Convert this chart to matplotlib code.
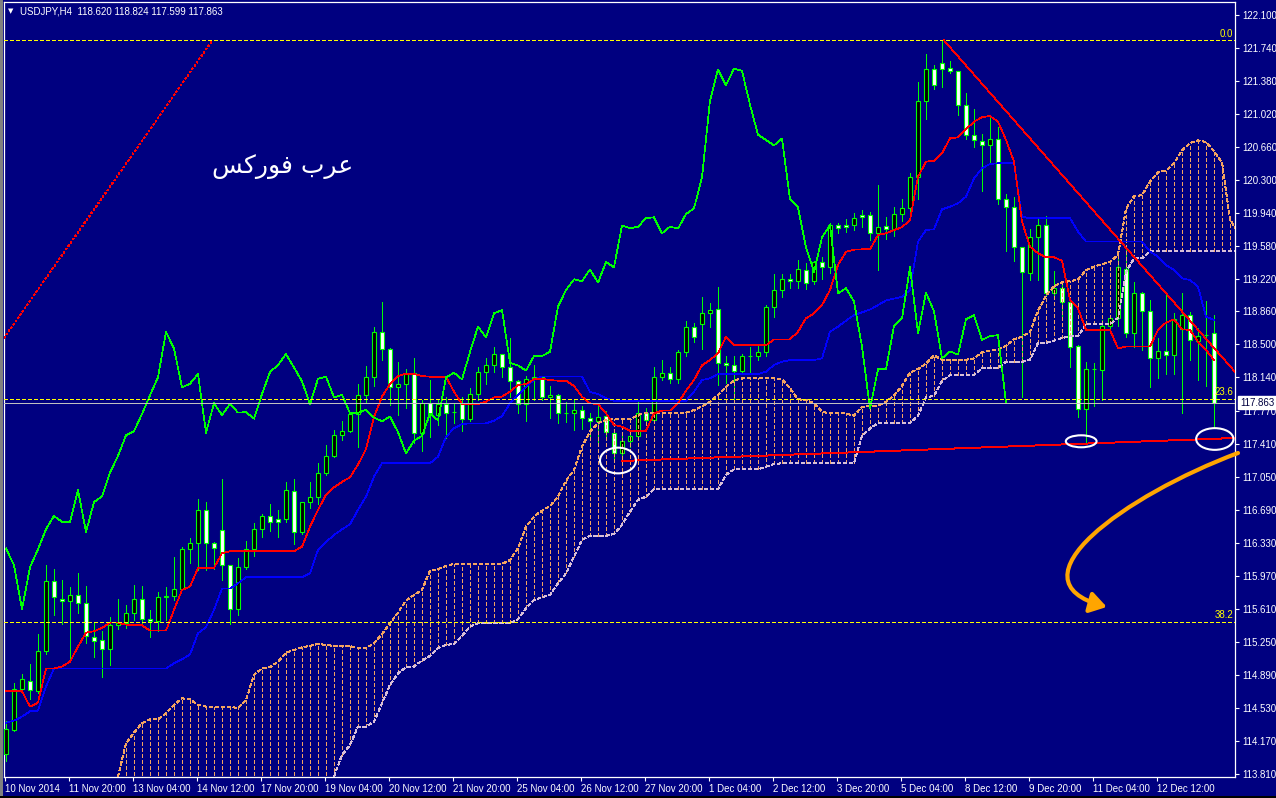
import numpy as np
import matplotlib
matplotlib.use("Agg")
import matplotlib.pyplot as plt
from matplotlib.patches import Ellipse, FancyArrowPatch, Rectangle
from matplotlib.path import Path

plt.rcParams['font.family'] = ['Liberation Sans', 'DejaVu Sans']
plt.rcParams['lines.scale_dashes'] = False

# ---- candles USDJPY H4 (bar 0 .. 151) ----
opens = [114.024, 114.286, 114.731, 114.825, 114.716, 115.146, 115.911, 115.722, 115.692, 115.765,
         115.671, 115.299, 115.27, 115.168, 115.43, 115.46, 115.561, 115.722, 115.503, 115.48,
         115.736, 115.745, 115.824, 116.261, 116.326, 116.691, 116.326, 116.472, 116.086, 115.605,
         116.064, 116.261, 116.479, 116.625, 116.59, 116.59, 116.895, 116.45, 116.778, 116.837,
         117.099, 117.281, 117.51, 117.55, 117.74, 117.944, 118.141, 118.636, 118.454, 118.031,
         118.07, 118.184, 117.535, 117.856, 117.728, 117.85, 117.76, 117.85, 117.688, 117.958,
         118.198, 118.275, 118.395, 118.249, 118.096, 117.848, 118.125, 118.14, 117.921, 117.95,
         117.75, 117.75, 117.787, 117.70, 117.66, 117.717, 117.535, 117.309, 117.448, 117.50,
         117.746, 117.674, 118.14, 118.19, 118.118, 118.417, 118.694, 118.723, 118.839, 118.883,
         118.30, 118.27, 118.213, 118.373, 118.373, 118.42, 118.912, 119.094, 119.211, 119.19,
         119.313, 119.19, 119.40, 119.342, 119.80, 119.80, 119.80, 119.911, 119.911, 119.714,
         119.79, 119.765, 119.925, 119.987, 120.326, 121.164, 121.506, 121.58, 121.521, 121.49,
         121.12, 120.792, 120.727, 120.676, 120.749, 120.086, 119.998, 119.561, 119.284, 119.67,
         119.802, 119.058, 119.113, 118.967, 118.483, 117.798, 118.228, 118.221, 118.70, 118.785,
         119.328, 118.621, 119.066, 118.862, 118.348, 118.424, 118.381, 118.672, 118.818, 118.541,
         118.60, 118.620]
highs = [114.388, 114.804, 114.90, 115.008, 115.335, 116.086, 116.042, 115.926, 115.85, 115.998,
         115.86, 115.45, 115.37, 115.525, 115.722, 115.65, 115.875, 115.86, 115.60, 115.79,
         115.85, 116.181, 116.29, 116.385, 116.807, 116.78, 116.34, 117.033, 116.09, 116.165,
         116.355, 116.545, 116.65, 116.76, 116.69, 116.997, 117.033, 116.78, 116.997, 117.20,
         117.405, 117.565, 117.66, 117.76, 118.068, 118.265, 118.694, 118.964, 118.46, 118.31,
         118.23, 118.347, 117.89, 118.111, 117.907, 117.93, 117.855, 117.93, 118.023, 118.256,
         118.347, 118.475, 118.40, 118.566, 118.11, 118.15, 118.275, 118.14, 118.04, 117.96,
         117.87, 117.89, 117.83, 117.75, 117.83, 117.775, 117.54, 117.528, 117.565, 117.874,
         117.81, 118.249, 118.33, 118.256, 118.44, 118.76, 118.73, 119.014, 118.956, 119.123,
         118.37, 118.37, 118.395, 118.475, 118.49, 118.93, 119.269, 119.27, 119.27, 119.422,
         119.386, 119.407, 119.46, 119.823, 119.823, 119.867, 119.932, 119.97, 119.947, 120.239,
         119.889, 120.005, 120.093, 120.37, 121.368, 121.674, 121.55, 121.827, 121.594, 121.49,
         121.244, 121.069, 120.80, 120.982, 120.88, 120.144, 120.107, 119.561, 119.765, 119.896,
         119.903, 119.30, 119.18, 119.0, 118.49, 118.312, 118.30, 118.767, 118.82, 119.496,
         119.532, 119.186, 119.07, 118.985, 118.567, 119.06, 118.84, 119.06, 118.858, 118.676,
         118.97, 118.824]
lows = [113.95, 114.27, 114.70, 114.621, 114.69, 115.12, 115.543, 115.441, 115.035, 115.561,
        115.233, 115.08, 114.862, 115.0, 115.39, 115.40, 115.49, 115.42, 115.299, 115.37,
        115.49, 115.71, 115.82, 116.108, 116.035, 116.035, 116.05, 115.926, 115.445, 115.54,
        116.04, 116.19, 116.39, 116.465, 116.40, 116.56, 116.32, 116.43, 116.712, 116.76,
        117.07, 117.27, 117.455, 117.54, 117.376, 117.87, 118.04, 118.33, 117.835, 117.725,
        117.80, 117.419, 117.338, 117.491, 117.619, 117.473, 117.637, 117.557, 117.667, 117.89,
        118.07, 118.2, 118.147, 117.929, 117.746, 117.666, 117.89, 117.89, 117.70, 117.645,
        117.65, 117.565, 117.57, 117.49, 117.42, 117.455, 117.25, 117.207, 117.38, 117.49,
        117.64, 117.66, 118.11, 118.075, 118.075, 118.37, 118.53, 118.446, 118.694, 118.056,
        118.075, 117.86, 118.19, 118.2, 118.33, 118.37, 118.80, 119.02, 119.116, 119.116,
        119.102, 119.16, 119.22, 119.277, 119.714, 119.728, 119.75, 119.787, 119.641, 119.313,
        119.656, 119.685, 119.852, 119.932, 120.086, 120.967, 121.295, 121.317, 121.463, 121.011,
        120.741, 120.654, 120.18, 120.472, 120.035, 119.517, 119.415, 117.92, 119.204, 119.204,
        119.03, 119.0, 118.80, 118.257, 117.71, 117.41, 117.827, 117.893, 118.66, 118.70,
        118.585, 118.476, 118.44, 118.038, 118.13, 118.18, 118.18, 117.754, 118.33, 118.111,
        118.05, 117.599]
closes = [114.294, 114.731, 114.84, 114.723, 115.146, 115.911, 115.736, 115.692, 115.758, 115.671,
          115.314, 115.255, 115.168, 115.43, 115.46, 115.561, 115.722, 115.503, 115.48, 115.736,
          115.745, 115.824, 116.261, 116.326, 116.691, 116.326, 116.27, 116.086, 115.605, 116.064,
          116.261, 116.479, 116.625, 116.56, 116.56, 116.909, 116.45, 116.778, 116.837, 117.099,
          117.281, 117.507, 117.55, 117.74, 117.944, 118.141, 118.636, 118.454, 118.031, 118.07,
          118.177, 117.535, 117.856, 117.728, 117.85, 117.754, 117.76, 117.688, 117.958, 118.198,
          118.275, 118.395, 118.249, 118.096, 117.848, 118.125, 118.147, 117.921, 117.95, 117.746,
          117.75, 117.787, 117.70, 117.66, 117.71, 117.542, 117.309, 117.448, 117.50, 117.746,
          117.67, 118.14, 118.19, 118.118, 118.417, 118.694, 118.577, 118.839, 118.876, 118.30,
          118.27, 118.213, 118.373, 118.373, 118.42, 118.912, 119.094, 119.211, 119.19, 119.32,
          119.175, 119.40, 119.342, 119.801, 119.77, 119.785, 119.881, 119.889, 119.714, 119.787,
          119.765, 119.925, 119.987, 120.326, 121.164, 121.506, 121.332, 121.514, 121.49, 121.12,
          120.792, 120.734, 120.676, 120.749, 120.086, 119.998, 119.561, 119.291, 119.67, 119.802,
          119.058, 119.113, 118.967, 118.476, 117.798, 118.228, 118.228, 118.701, 118.785, 119.343,
          118.621, 119.066, 118.862, 118.348, 118.424, 118.388, 118.774, 118.818, 118.548, 118.592,
          118.60, 117.863]

# Ichimoku lines (bar 0 .. 151)
tenkan = [114.709, 114.709, 114.709, 114.541, 114.585, 114.957, 114.957, 114.98, 115.033, 115.197,
          115.35, 115.365, 115.401, 115.459, 115.459, 115.437, 115.43, 115.43, 115.372, 115.372,
          115.372, 115.598, 115.816, 115.853, 116.057, 116.057, 116.057, 116.217, 116.239, 116.239,
          116.239, 116.239, 116.239, 116.239, 116.239, 116.239, 116.239, 116.29, 116.508, 116.691,
          116.858, 116.938, 116.997, 117.048, 117.186, 117.354, 117.71, 117.929, 118.068, 118.155,
          118.18, 118.176, 118.154, 118.147, 118.147, 118.147, 117.983, 117.848, 117.848, 117.848,
          117.874, 117.921, 117.929, 117.983, 118.056, 118.067, 118.118, 118.125, 118.11, 118.103,
          118.103, 118.045, 117.929, 117.856, 117.848, 117.746, 117.619, 117.601, 117.557, 117.557,
          117.557, 117.746, 117.776, 117.776, 117.856, 117.994, 118.111, 118.271, 118.33, 118.402,
          118.584, 118.49, 118.49, 118.49, 118.49, 118.49, 118.555, 118.555, 118.555, 118.639,
          118.785, 118.839, 118.93, 119.094, 119.368, 119.513, 119.535, 119.539, 119.539, 119.696,
          119.714, 119.75, 119.78, 119.86, 120.333, 120.497, 120.508, 120.588, 120.752, 120.763,
          120.851, 120.934, 120.982, 120.996, 120.934, 120.734, 120.497, 119.842, 119.568, 119.496,
          119.452, 119.452, 119.415, 118.986, 118.894, 118.658, 118.658, 118.658, 118.658, 118.457,
          118.476, 118.476, 118.476, 118.476, 118.658, 118.738, 118.774, 118.665, 118.658, 118.53,
          118.439, 118.33]
kijun = [114.366, 114.388, 114.432, 114.49, 114.498, 114.76, 114.957, 114.957, 114.957, 114.957,
         114.957, 114.957, 114.957, 114.957, 114.957, 114.957, 114.957, 114.957, 114.957, 114.957,
         114.957, 115.015, 115.059, 115.11, 115.343, 115.408, 115.598, 115.831, 115.831, 115.889,
         115.955, 115.955, 115.955, 115.955, 115.955, 115.955, 115.955, 115.955, 115.999, 116.253,
         116.341, 116.417, 116.479, 116.534, 116.691, 116.836, 117.055, 117.201, 117.201, 117.201,
         117.201, 117.201, 117.201, 117.201, 117.273, 117.492, 117.582, 117.63, 117.637, 117.637,
         117.637, 117.666, 117.717, 117.856, 117.947, 118.038, 118.11, 118.15, 118.15, 118.15,
         118.15, 118.15, 118.15, 117.98, 117.958, 117.91, 117.885, 117.885, 117.885, 117.885,
         117.885, 117.885, 117.885, 117.885, 117.885, 117.885, 117.983, 118.111, 118.129, 118.176,
         118.176, 118.176, 118.176, 118.176, 118.176, 118.202, 118.275, 118.311, 118.329, 118.329,
         118.329, 118.329, 118.348, 118.639, 118.694, 118.759, 118.821, 118.85, 118.88, 118.93,
         118.98, 119.0, 119.02, 119.095, 119.623, 119.75, 119.758, 119.976, 120.005, 120.042,
         120.115, 120.315, 120.424, 120.472, 120.479, 120.479, 120.479, 119.896, 119.878, 119.878,
         119.878, 119.878, 119.878, 119.878, 119.732, 119.623, 119.623, 119.623, 119.623, 119.623,
         119.623, 119.623, 119.623, 119.514, 119.459, 119.368, 119.313, 119.222, 119.204, 119.131,
         118.803, 118.767]

# Kumo spans, bar 14 .. 154
span_start = 14
span_a = [113.776, 114.14, 114.257, 114.36, 114.403, 114.403, 114.468, 114.56, 114.632, 114.621,
          114.56, 114.541, 114.541, 114.541, 114.541, 114.523, 114.614, 114.887, 114.96, 114.971,
          115.033, 115.131, 115.161, 115.19, 115.204, 115.226, 115.215, 115.204, 115.204, 115.204,
          115.179, 115.179, 115.233, 115.335, 115.452, 115.569, 115.70, 115.762, 115.816, 116.028,
          116.042, 116.079, 116.10, 116.10, 116.10, 116.10, 116.10, 116.10, 116.10, 116.144,
          116.272, 116.509, 116.618, 116.683, 116.734, 116.836, 117.011, 117.128, 117.383, 117.547,
          117.638, 117.674, 117.682, 117.682, 117.682, 117.728, 117.754, 117.754, 117.754, 117.754,
          117.754, 117.754, 117.783, 117.82, 117.874, 117.947, 118.038, 118.104, 118.129, 118.129,
          118.129, 118.129, 118.129, 118.118, 118.02, 117.90, 117.892, 117.856, 117.765, 117.746,
          117.746, 117.746, 117.721, 117.816, 117.83, 117.83, 117.87, 117.94, 118.047, 118.191,
          118.23, 118.289, 118.38, 118.333, 118.333, 118.333, 118.333, 118.346, 118.415, 118.433,
          118.442, 118.484, 118.557, 118.584, 118.639, 118.867, 119.031, 119.136, 119.18, 119.19,
          119.21, 119.31, 119.35, 119.375, 119.40, 119.48, 119.978, 120.12, 120.13, 120.28,
          120.38, 120.40, 120.48, 120.62, 120.70, 120.73, 120.71, 120.61, 120.49, 119.87,
          119.72]
span_b = [113.50, 113.50, 113.50, 113.50, 113.50, 113.50, 113.50, 113.50, 113.50, 113.50,
          113.50, 113.50, 113.50, 113.50, 113.50, 113.50, 113.50, 113.50, 113.50, 113.50,
          113.50, 113.50, 113.50, 113.50, 113.50, 113.50, 113.50, 113.776, 114.013, 114.122,
          114.323, 114.323, 114.377, 114.578, 114.778, 114.906, 114.971, 114.979, 115.044, 115.095,
          115.179, 115.215, 115.226, 115.314, 115.416, 115.452, 115.452, 115.452, 115.452, 115.452,
          115.496, 115.616, 115.707, 115.736, 115.762, 115.889, 115.998, 116.181, 116.363, 116.407,
          116.407, 116.407, 116.428, 116.527, 116.672, 116.80, 116.836, 116.917, 116.917, 116.917,
          116.917, 116.917, 116.917, 116.917, 116.917, 116.917, 117.073, 117.135, 117.135, 117.135,
          117.135, 117.164, 117.193, 117.20, 117.20, 117.20, 117.20, 117.20, 117.20, 117.20,
          117.20, 117.20, 117.20, 117.50, 117.58, 117.64, 117.64, 117.64, 117.64, 117.64,
          117.72, 117.92, 117.94, 118.10, 118.165, 118.165, 118.165, 118.165, 118.24, 118.24,
          118.24, 118.31, 118.31, 118.31, 118.33, 118.515, 118.515, 118.54, 118.57, 118.59,
          118.59, 118.72, 118.72, 118.72, 118.72, 118.79, 119.29, 119.44, 119.44, 119.517,
          119.517, 119.517, 119.517, 119.517, 119.517, 119.517, 119.517, 119.517, 119.517, 119.517,
          119.517]
chikou_shift = 26

# fibo levels and drawn objects
fib_levels = [121.823, 117.900, 115.466]
fib_names = ["0.0", "23.6", "38.2"]
last_price = 117.863
fib_diag = ([-0.25, 25.8], [118.57, 121.823])
down_trend = ([117.2, 153.625], [121.827, 118.20])
support = ([77.0, 153.625], [117.226, 117.477])
circles = [(76.5, 117.231, 4.5, 0.281), (134.4, 117.441, 3.84, 0.131), (151.1, 117.466, 4.66, 0.237)]

y_ticks = [122.100, 121.740, 121.380, 121.020, 120.660, 120.300, 119.940, 119.580, 119.220, 118.860,
           118.500, 118.140, 117.770, 117.410, 117.050, 116.690, 116.330, 115.970, 115.610, 115.250,
           114.890, 114.530, 114.170, 113.810]
x_labels = ["10 Nov 2014", "11 Nov 20:00", "13 Nov 04:00", "14 Nov 12:00", "17 Nov 20:00",
            "19 Nov 04:00", "20 Nov 12:00", "21 Nov 20:00", "25 Nov 04:00", "26 Nov 12:00",
            "27 Nov 20:00", "1 Dec 04:00", "2 Dec 12:00", "3 Dec 20:00", "5 Dec 04:00",
            "8 Dec 12:00", "9 Dec 20:00", "11 Dec 04:00", "12 Dec 12:00"]
label_step = 8

BG = '#000080'
LIME = '#00FF00'
SANDY = '#F4A460'
THISTLE = '#D8BFD8'
W, H = 1276, 798
LW = 0.5   # thin 1 px indicator lines (aliased)

fig = plt.figure(figsize=(W / 100, H / 100), dpi=100, facecolor=BG)
ax = fig.add_axes([4 / W, 1 - 777 / H, 1231 / W, 775 / H], facecolor=BG)
ax.set_xlim(-0.25, 153.625)
ax.set_ylim(113.772, 122.242)

o = np.array(opens); h = np.array(highs); l = np.array(lows); c = np.array(closes)
idx = np.arange(len(c))

# candles
ax.vlines(idx, l, h, colors=LIME, lw=0.7, zorder=2, antialiased=False)
body_col = np.where(c > o, 'black', 'white')
ax.bar(idx, np.abs(c - o), 0.55, bottom=np.minimum(o, c), color=body_col,
       edgecolor=LIME, linewidth=0.8, zorder=3)

# kumo
a = np.array(span_a); b = np.array(span_b)
sx = np.arange(span_start, span_start + len(a))
hatch_col = np.where(a >= b, SANDY, THISTLE)
dash = (0, (2.2, 1.5))
ax.vlines(sx, np.minimum(a, b), np.maximum(a, b), colors=hatch_col, lw=0.7,
          linestyles=[dash], zorder=4, antialiased=False)
ax.plot(sx, a, color=SANDY, lw=LW, ls=dash, zorder=4, antialiased=False)
ax.plot(sx, b, color=THISTLE, lw=LW, ls=dash, zorder=4, antialiased=False)

# lines
ax.plot(idx, kijun, color='#0000FF', lw=LW, zorder=5, antialiased=False)
ax.plot(idx, tenkan, color='#FF0000', lw=LW, zorder=5, antialiased=False)
ax.plot(idx[:-chikou_shift], c[chikou_shift:], color=LIME, lw=LW, zorder=5, antialiased=False)

# fibo + price line
for lvl, name in zip(fib_levels, fib_names):
    ax.axhline(lvl, color='#FFFF00', lw=0.7, ls=(0, (2.2, 1.5)), zorder=6, antialiased=False)
    ax.text(153.4, lvl + 0.02, name, color='#FFFF00', fontsize=7, ha='right', va='bottom', zorder=7)
ax.axhline(last_price, color='#C0C0C0', lw=0.7, zorder=6, antialiased=False)
ax.plot(*fib_diag, color='#FF0000', lw=LW, ls=(0, (1.2, 2.0)), zorder=6, antialiased=False)
ax.plot(*down_trend, color='#FF0000', lw=LW, zorder=6, antialiased=False)
ax.plot(*support, color='#FF0000', lw=0.7, zorder=6, antialiased=False)

for cx_, cy_, w_, h_ in circles:
    ax.add_patch(Ellipse((cx_, cy_), w_, h_, fill=False, ec='white', lw=1.5, zorder=8))

# orange curved arrow
arrow_path = Path([(154.0, 117.313), (140.0, 116.854), (125.0, 115.925), (137.6, 115.63)],
                  [Path.MOVETO, Path.CURVE4, Path.CURVE4, Path.CURVE4])
arr = FancyArrowPatch(path=arrow_path, arrowstyle='-|>,head_length=0.55,head_width=0.35',
                      mutation_scale=18, color='#FFA500', lw=3, zorder=9, clip_on=False)
ax.add_patch(arr)

# arabic label (pre-shaped, visual order)
ax.text(34.6, 120.44, "\uFEB2\uFEDB\uFEAD\uFEEE\uFED3 \uFE8F\uFEAE\uFECB", color='white',
        fontsize=18, ha='center', va='center', family=['DejaVu Sans'], zorder=9)

# axes styling
for side in ['left', 'top', 'right', 'bottom']:
    ax.spines[side].set_color('white')
    ax.spines[side].set_linewidth(0.9)
ax.yaxis.tick_right()
ax.set_yticks(y_ticks)
ax.set_yticklabels([f"{v:.3f}" for v in y_ticks])
ax.tick_params(axis='y', colors='white', labelcolor='white', length=3, width=0.8,
               labelsize=7, pad=2)
xt = np.arange(len(x_labels)) * label_step - 0.1
ax.set_xticks(xt)
ax.set_xticklabels(x_labels, ha='left')
ax.tick_params(axis='x', colors='white', labelcolor='white', length=3, width=0.8,
               labelsize=7, pad=2)

# current price tag
ax.text(1.004, last_price, f"{last_price:.3f}", transform=ax.get_yaxis_transform(),
        color='#000040', fontsize=7, ha='left', va='center', zorder=10, clip_on=False,
        bbox=dict(boxstyle='square,pad=0.15', fc='white', ec='white'))

# header
fig.text(8 / W, 1 - 11 / H, "\u25BC", color='white', fontsize=5, va='center', ha='left',
         family=['DejaVu Sans'])
fig.text(20 / W, 1 - 11 / H, "USDJPY,H4  118.620 118.824 117.599 117.863", color='white',
         fontsize=7, va='center', ha='left')

# window frame bits
fig.add_artist(Rectangle((0, 0), 3 / W, 1, transform=fig.transFigure, color='#808080', lw=0))
fig.add_artist(Rectangle((0, 0), 1, 2 / H, transform=fig.transFigure, color='black', lw=0))

fig.savefig("out.png", dpi=100, facecolor=BG)
